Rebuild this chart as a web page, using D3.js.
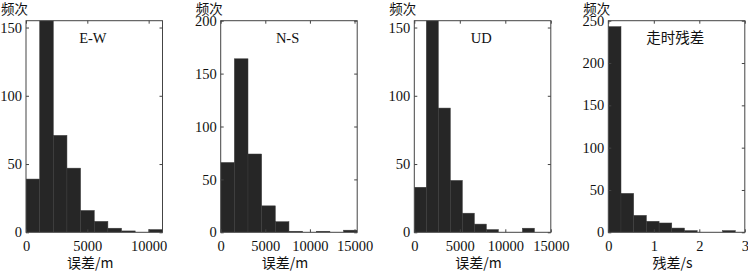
<!DOCTYPE html>
<html>
<head>
<meta charset="utf-8">
<script src="https://cdn.jsdelivr.net/npm/d3@7"></script>
<style>
  body { margin: 0; background: #fff; }
  text { font-family: "Liberation Serif", "Times New Roman", serif; fill: #111; }
  .cjk { font-family: "Noto Sans CJK SC", serif; }
</style>
</head>
<body>
<div id="chart"></div>
<script>
// histogram counts (10 bins each)
const ewCounts = [39, 180, 71, 47, 16, 8, 3, 1, 0, 2];
const nsCounts = [66, 164, 74, 25, 10, 1, 0, 1, 0, 2];
const udCounts = [33, 180, 91, 38, 14, 6, 2, 0, 0, 3];
const rsCounts = [243, 46, 20, 13, 11, 5, 2, 0, 0, 2];

const panelNames = ["E-W", "N-S", "UD", "走时残差"];
const xLabels = ["误差/m", "误差/m", "误差/m", "残差/s"];
const yLabel = "频次";
const binEnds = [11130, 15300, 13200, 2.79];
const xMaxes = [11130, 15300, 15000, 3];
const yMaxes = [155, 200, 155, 250];
const xTicks = [[0, 5000, 10000], [0, 5000, 10000, 15000], [0, 5000, 10000, 15000], [0, 1, 2, 3]];
const yTicks = [[0, 50, 100, 150], [0, 50, 100, 150, 200], [0, 50, 100, 150], [0, 50, 100, 150, 200, 250]];
const allCounts = [ewCounts, nsCounts, udCounts, rsCounts];

const W = 748, H = 273;
const lefts = [26, 220.7, 414.3, 608.3];
const plotW = 136.5, plotTop = 20.7, plotBottom = 232.3;

const svg = d3.select("#chart").append("svg")
  .attr("width", W).attr("height", H);

allCounts.forEach((counts, i) => {
  const h = plotBottom - plotTop;
  const x = d3.scaleLinear().domain([0, xMaxes[i]]).range([0, plotW]);
  const y = d3.scaleLinear().domain([0, yMaxes[i]]).range([h, 0]);
  const step = binEnds[i] / counts.length;

  const g = svg.append("g").attr("transform", "translate(" + lefts[i] + "," + plotTop + ")");

  g.append("clipPath").attr("id", "clip" + i)
    .append("rect").attr("width", plotW).attr("height", h);

  // bars
  g.append("g").attr("clip-path", "url(#clip" + i + ")")
    .selectAll("rect")
    .data(counts)
    .enter()
    .append("rect")
    .attr("x", (d, k) => x(k * step))
    .attr("width", (d, k) => x((k + 1) * step) - x(k * step))
    .attr("y", d => y(d))
    .attr("height", d => h - y(d))
    .attr("fill", "#262626")
    .attr("stroke", "#3c3c3c")
    .attr("stroke-width", 0.5);

  // axes, ticks pointing inward
  g.append("g").attr("transform", "translate(0," + h + ")")
    .call(d3.axisBottom(x).tickValues(xTicks[i]).tickFormat(d3.format("d")).tickSize(-3).tickPadding(8));
  g.append("g")
    .call(d3.axisTop(x).tickValues(xTicks[i]).tickFormat("").tickSize(-3));
  g.append("g")
    .call(d3.axisLeft(y).tickValues(yTicks[i]).tickSize(-3).tickPadding(4));
  g.append("g").attr("transform", "translate(" + plotW + ",0)")
    .call(d3.axisRight(y).tickValues(yTicks[i]).tickFormat("").tickSize(-3));

  g.selectAll(".domain").remove();
  g.selectAll(".tick line").attr("stroke", "#444");
  g.selectAll(".tick text").style("font-size", "14.5px").style("font-family", "Liberation Serif").attr("fill", "#111");

  g.append("rect").attr("width", plotW).attr("height", h)
    .attr("fill", "none").attr("stroke", "#444").attr("stroke-width", 1);

  // panel name
  g.append("text").attr("class", "cjk")
    .attr("x", plotW * 0.49).attr("y", 22)
    .attr("text-anchor", "middle")
    .style("font-size", "14.5px")
    .style("font-family", i === 3 ? "Noto Sans CJK SC" : "Liberation Serif")
    .text(panelNames[i]);

  // axis titles
  g.append("text").attr("class", "cjk")
    .attr("x", plotW / 2 - 4).attr("y", h + 36)
    .attr("text-anchor", "middle")
    .style("font-size", "14px")
    .text(xLabels[i]);

  g.append("text").attr("class", "cjk")
    .attr("x", 2).attr("y", -6.8)
    .attr("text-anchor", "end")
    .style("font-size", "13.5px")
    .text(yLabel);
});
</script>
</body>
</html>
